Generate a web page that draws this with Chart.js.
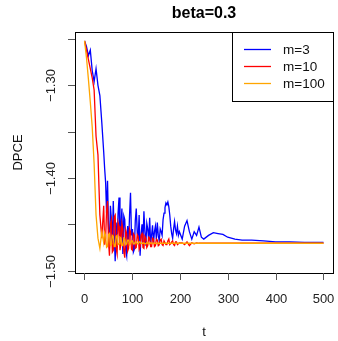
<!DOCTYPE html>
<html>
<head>
<meta charset="utf-8">
<script src="https://cdn.jsdelivr.net/npm/chart.js@4/dist/chart.umd.min.js"></script>
<style>
  html, body { margin: 0; padding: 0; background: #fff; }
  #wrap { width: 338px; height: 341px; position: relative; }
</style>
</head>
<body>
<div id="wrap"><canvas id="dpceChart" width="338" height="341"></canvas></div>
<script>
// Data
const tValues = [
  1, 5, 9, 13, 17, 21, 25, 29, 33, 37,
  41, 43, 45, 47, 49, 51, 53, 55, 57, 59,
  61, 63, 65, 67, 69, 71, 73, 75, 77, 79,
  81, 83, 85, 87, 89, 91, 93, 95, 97, 99,
  101, 103, 105, 107, 109, 111, 113, 115, 117, 119,
  121, 123, 125, 127, 129, 131, 133, 135, 137, 139,
  141, 143, 145, 147, 149, 151, 153, 155, 157, 159,
  161, 163, 165, 167, 169, 171, 173, 175, 177, 179,
  181, 183, 185, 187, 189, 191, 193, 195, 197, 199,
  205, 210, 215, 220, 225, 230, 235, 240, 245, 250,
  260, 270, 280, 290, 300, 315, 330, 350, 375, 400,
  430, 460, 500
];

const dpceM3 = [
  -1.252, -1.258, -1.268, -1.262, -1.284, -1.296, -1.282, -1.300, -1.311, -1.340,
  -1.372, -1.390, -1.405, -1.438, -1.403, -1.452, -1.476, -1.430, -1.445, -1.470,
  -1.425, -1.462, -1.490, -1.448, -1.470, -1.438, -1.421, -1.472, -1.455, -1.433,
  -1.482, -1.441, -1.445, -1.478, -1.484, -1.452, -1.470, -1.440, -1.416, -1.462,
  -1.455, -1.480, -1.477, -1.446, -1.433, -1.458, -1.465, -1.440, -1.484, -1.462,
  -1.450, -1.470, -1.436, -1.458, -1.473, -1.449, -1.455, -1.468, -1.443, -1.470,
  -1.462, -1.451, -1.470, -1.458, -1.452, -1.466, -1.448, -1.462, -1.468, -1.455,
  -1.458, -1.462, -1.445, -1.438, -1.432, -1.427, -1.429, -1.426, -1.431, -1.440,
  -1.452, -1.460, -1.465, -1.455, -1.447, -1.456, -1.460, -1.452, -1.462, -1.458,
  -1.466, -1.452, -1.446, -1.458, -1.466, -1.458, -1.462, -1.453, -1.464, -1.466,
  -1.462, -1.459, -1.460, -1.461, -1.464, -1.466, -1.467, -1.467, -1.468, -1.469,
  -1.469, -1.4695, -1.4695
];

const dpceM10 = [
  -1.252, -1.262, -1.272, -1.282, -1.292, -1.305, -1.355, -1.375, -1.440, -1.465,
  -1.430, -1.472, -1.465, -1.435, -1.425, -1.468, -1.484, -1.450, -1.445, -1.480,
  -1.478, -1.442, -1.440, -1.476, -1.482, -1.448, -1.452, -1.478, -1.470, -1.449,
  -1.455, -1.479, -1.486, -1.456, -1.460, -1.479, -1.476, -1.455, -1.458, -1.477,
  -1.478, -1.460, -1.462, -1.476, -1.475, -1.461, -1.463, -1.477, -1.474, -1.462,
  -1.460, -1.475, -1.476, -1.463, -1.465, -1.475, -1.473, -1.464, -1.465, -1.474,
  -1.474, -1.465, -1.466, -1.474, -1.473, -1.466, -1.467, -1.473, -1.472, -1.467,
  -1.466, -1.472, -1.473, -1.468, -1.468, -1.472, -1.472, -1.468, -1.466, -1.472,
  -1.471, -1.469, -1.468, -1.472, -1.473, -1.469, -1.469, -1.472, -1.471, -1.470,
  -1.470, -1.472, -1.469, -1.473, -1.470, -1.471, -1.470, -1.4705, -1.4705, -1.4705,
  -1.4705, -1.4705, -1.4705, -1.4705, -1.4705, -1.4705, -1.4705, -1.4705, -1.4705, -1.4705,
  -1.4705, -1.4705, -1.4705
];

const dpceM100 = [
  -1.252, -1.270, -1.293, -1.318, -1.345, -1.385, -1.440, -1.465, -1.476, -1.458,
  -1.470, -1.459, -1.462, -1.475, -1.474, -1.461, -1.460, -1.473, -1.472, -1.462,
  -1.463, -1.474, -1.474, -1.463, -1.462, -1.472, -1.471, -1.464, -1.465, -1.473,
  -1.473, -1.465, -1.466, -1.472, -1.471, -1.467, -1.467, -1.472, -1.471, -1.468,
  -1.468, -1.471, -1.471, -1.469, -1.469, -1.471, -1.471, -1.469, -1.469, -1.471,
  -1.4705, -1.470, -1.470, -1.471, -1.471, -1.470, -1.4695, -1.471, -1.471, -1.470,
  -1.470, -1.471, -1.4705, -1.470, -1.4705, -1.471, -1.4705, -1.470, -1.471, -1.4705,
  -1.4705, -1.4705, -1.4705, -1.4705, -1.4705, -1.4705, -1.4705, -1.4705, -1.4705, -1.4705,
  -1.4705, -1.4705, -1.4705, -1.4705, -1.4705, -1.4705, -1.4705, -1.4705, -1.4705, -1.4705,
  -1.4705, -1.4705, -1.4705, -1.4705, -1.4705, -1.4705, -1.4705, -1.4705, -1.4705, -1.4705,
  -1.4705, -1.4705, -1.4705, -1.4705, -1.4705, -1.4705, -1.4705, -1.4705, -1.4705, -1.4705,
  -1.4705, -1.4705, -1.4705
];

const seriesLabels = ['m=3', 'm=10', 'm=100'];
const seriesColors = ['#0000ff', '#ff0000', '#ffa500'];
const xTicks = [0, 100, 200, 300, 400, 500];
const yTicks = [-1.50, -1.45, -1.40, -1.35, -1.30, -1.25];
const yTickLabels = ['\u22121.50', '', '\u22121.40', '', '\u22121.30', ''];

const FONT = '"Liberation Sans", Arial, sans-serif';

function toPoints(values) {
  return values.map((v, i) => ({ x: tValues[i], y: v }));
}

// R style frame, axes, labels and legend
const rStylePlugin = {
  id: 'rStyle',
  afterDraw(chart) {
    const ctx = chart.ctx;
    const area = chart.chartArea;
    const xs = chart.scales.x;
    const ys = chart.scales.y;
    ctx.save();
    ctx.strokeStyle = '#000';
    ctx.fillStyle = '#000';
    ctx.lineWidth = 1;

    // box
    ctx.strokeRect(Math.round(area.left) + 0.5, Math.round(area.top) + 0.5,
      Math.round(area.right - area.left), Math.round(area.bottom - area.top));

    // x axis ticks
    ctx.strokeStyle = '#555';
    ctx.font = '13px ' + FONT;
    ctx.textAlign = 'center';
    ctx.textBaseline = 'middle';
    xTicks.forEach(t => {
      const px = Math.round(xs.getPixelForValue(t)) + 0.5;
      ctx.beginPath();
      ctx.moveTo(px, area.bottom);
      ctx.lineTo(px, area.bottom + 7);
      ctx.stroke();
      ctx.fillStyle = '#222';
      ctx.fillText(String(t), px, 299);
    });

    // y axis ticks
    yTicks.forEach((v, i) => {
      const py = Math.round(ys.getPixelForValue(v)) + 0.5;
      ctx.beginPath();
      ctx.moveTo(area.left, py);
      ctx.lineTo(area.left - 7, py);
      ctx.stroke();
      if (yTickLabels[i]) {
        ctx.save();
        ctx.translate(51, py);
        ctx.rotate(-Math.PI / 2);
        ctx.fillText(yTickLabels[i], 0, 0);
        ctx.restore();
      }
    });

    // axis titles
    ctx.fillStyle = '#111';
    ctx.fillText('t', (area.left + area.right) / 2, 332);
    ctx.save();
    ctx.translate(18, (area.top + area.bottom) / 2);
    ctx.rotate(-Math.PI / 2);
    ctx.fillText('DPCE', 0, 0);
    ctx.restore();

    // main title
    ctx.font = 'bold 16px ' + FONT;
    ctx.fillStyle = '#000';
    ctx.fillText('beta=0.3', (area.left + area.right) / 2, 14);

    // legend
    const lx = 232, ly = Math.round(area.top);
    const lw = Math.round(area.right) - lx, lh = 69;
    ctx.fillStyle = '#fff';
    ctx.fillRect(lx, ly, lw, lh);
    ctx.strokeStyle = '#000';
    ctx.strokeRect(lx + 0.5, ly + 0.5, lw, lh);
    ctx.font = '13.5px ' + FONT;
    ctx.textAlign = 'left';
    chart.data.datasets.forEach((ds, i) => {
      const y = 49 + i * 17;
      ctx.strokeStyle = ds.borderColor;
      ctx.lineWidth = 1.3;
      ctx.beginPath();
      ctx.moveTo(244, y + 0.5);
      ctx.lineTo(271, y + 0.5);
      ctx.stroke();
      ctx.fillStyle = '#111';
      ctx.fillText(ds.label, 283, y + 1);
    });
    ctx.restore();
  }
};

const ctx = document.getElementById('dpceChart').getContext('2d');
new Chart(ctx, {
  type: 'line',
  data: {
    datasets: [
      { label: seriesLabels[0], data: toPoints(dpceM3), borderColor: seriesColors[0], order: 3 },
      { label: seriesLabels[1], data: toPoints(dpceM10), borderColor: seriesColors[1], order: 2 },
      { label: seriesLabels[2], data: toPoints(dpceM100), borderColor: seriesColors[2], order: 1 }
    ].map(ds => Object.assign(ds, { borderWidth: 1.3, pointRadius: 0, tension: 0, fill: false }))
  },
  options: {
    responsive: false,
    animation: false,
    layout: { padding: { left: 75, right: 5, top: 32, bottom: 68 } },
    scales: {
      x: { type: 'linear', min: -18.96, max: 519.96, display: false },
      y: { type: 'linear', min: -1.5026, max: -1.2424, display: false }
    },
    plugins: {
      legend: { display: false },
      tooltip: { enabled: false }
    }
  },
  plugins: [rStylePlugin]
});
</script>
</body>
</html>
